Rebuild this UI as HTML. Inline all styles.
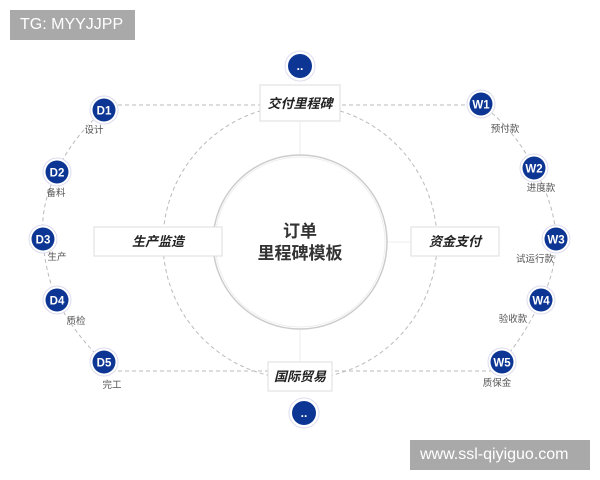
<!DOCTYPE html>
<html><head><meta charset="utf-8"><style>
body{margin:0;background:#fff;width:600px;height:480px;overflow:hidden;font-family:"Liberation Sans","Noto Sans CJK SC",sans-serif}
svg{position:absolute;left:0;top:0}
.wm{position:absolute;background:#a9a9a9;color:#fff;font-size:16px;line-height:30px;padding:0 10px}
</style></head><body>
<svg width="600" height="480" viewBox="0 0 600 480" font-family="Liberation Sans, Noto Sans CJK SC, sans-serif">
<g fill="none" stroke="#bbb" stroke-dasharray="4,3" stroke-width="1">
<circle cx="300" cy="242" r="137"/>
<path d="M104,110 Q70,140 57,172 Q40,205 43,239 Q45,272 57,300 Q75,335 104,362"/>
<path d="M481,104 Q515,130 534,168 Q555,205 556,239 Q556,272 541,300 Q525,335 502,362"/>
<line x1="104" y1="105" x2="481" y2="105"/>
<line x1="104" y1="371" x2="502" y2="371"/>
</g>
<g stroke="#eee" stroke-width="1">
<line x1="300" y1="121" x2="300" y2="155"/><line x1="300" y1="329" x2="300" y2="362"/>
<line x1="222" y1="242" x2="213" y2="242"/><line x1="387" y1="242" x2="411" y2="242"/>
</g>
<circle cx="300" cy="242" r="87" fill="#fff" stroke="#ccc" stroke-width="1.5"/>
<circle cx="300" cy="242" r="85" fill="none" stroke="#eee" stroke-width="1"/>
<text x="300" y="237" text-anchor="middle" font-size="17" font-weight="bold" fill="#333">订单</text>
<text x="300" y="259" text-anchor="middle" font-size="17" font-weight="bold" fill="#333">里程碑模板</text>
<g fill="#fff" stroke="#ddd">
<rect x="260" y="85" width="80" height="36"/>
<rect x="94" y="227" width="128" height="29"/>
<rect x="411" y="227" width="88" height="29"/>
<rect x="268" y="362" width="64" height="29"/>
</g>
<g font-size="13" font-weight="bold" font-style="italic" fill="#222" text-anchor="middle">
<text x="300" y="108">交付里程碑</text>
<text x="158" y="246">生产监造</text>
<text x="455" y="246">资金支付</text>
<text x="300" y="381">国际贸易</text>
</g>
<g font-size="12" font-weight="bold" fill="#fff" text-anchor="middle">
<g><circle cx="300" cy="66" r="15" fill="#fff" stroke="#dde"/><circle cx="300" cy="66" r="12" fill="#0d3694"/><text x="300" y="70">..</text></g>
<g><circle cx="304" cy="413" r="15" fill="#fff" stroke="#dde"/><circle cx="304" cy="413" r="12" fill="#0d3694"/><text x="304" y="417">..</text></g>
</g>
<g font-size="11.5" font-weight="bold" fill="#fff" text-anchor="middle" stroke="none">
<circle cx="104" cy="110" r="14" fill="#fff" stroke="#dde"/><circle cx="104" cy="110" r="11.5" fill="#0d3694"/><text x="104" y="114.5">D1</text>
<circle cx="57" cy="172" r="14" fill="#fff" stroke="#dde"/><circle cx="57" cy="172" r="11.5" fill="#0d3694"/><text x="57" y="176.5">D2</text>
<circle cx="43" cy="239" r="14" fill="#fff" stroke="#dde"/><circle cx="43" cy="239" r="11.5" fill="#0d3694"/><text x="43" y="243.5">D3</text>
<circle cx="57" cy="300" r="14" fill="#fff" stroke="#dde"/><circle cx="57" cy="300" r="11.5" fill="#0d3694"/><text x="57" y="304.5">D4</text>
<circle cx="104" cy="362" r="14" fill="#fff" stroke="#dde"/><circle cx="104" cy="362" r="11.5" fill="#0d3694"/><text x="104" y="366.5">D5</text>
<circle cx="481" cy="104" r="14" fill="#fff" stroke="#dde"/><circle cx="481" cy="104" r="11.5" fill="#0d3694"/><text x="481" y="108.5">W1</text>
<circle cx="534" cy="168" r="14" fill="#fff" stroke="#dde"/><circle cx="534" cy="168" r="11.5" fill="#0d3694"/><text x="534" y="172.5">W2</text>
<circle cx="556" cy="239" r="14" fill="#fff" stroke="#dde"/><circle cx="556" cy="239" r="11.5" fill="#0d3694"/><text x="556" y="243.5">W3</text>
<circle cx="541" cy="300" r="14" fill="#fff" stroke="#dde"/><circle cx="541" cy="300" r="11.5" fill="#0d3694"/><text x="541" y="304.5">W4</text>
<circle cx="502" cy="362" r="14" fill="#fff" stroke="#dde"/><circle cx="502" cy="362" r="11.5" fill="#0d3694"/><text x="502" y="366.5">W5</text>
</g>
<g font-size="9.5" fill="#555" text-anchor="middle">
<text x="94" y="133">设计</text>
<text x="56" y="196">备料</text>
<text x="57" y="260">生产</text>
<text x="76" y="324">质检</text>
<text x="112" y="388">完工</text>
<text x="505" y="132">预付款</text>
<text x="541" y="191">进度款</text>
<text x="535" y="262">试运行款</text>
<text x="513" y="322">验收款</text>
<text x="497" y="386">质保金</text>
</g>
</svg>
<div class="wm" style="left:10px;top:10px;height:30px;width:105px">TG: MYYJJPP</div>
<div class="wm" style="left:410px;top:440px;height:30px;width:160px">www.ssl-qiyiguo.com</div>
</body></html>
